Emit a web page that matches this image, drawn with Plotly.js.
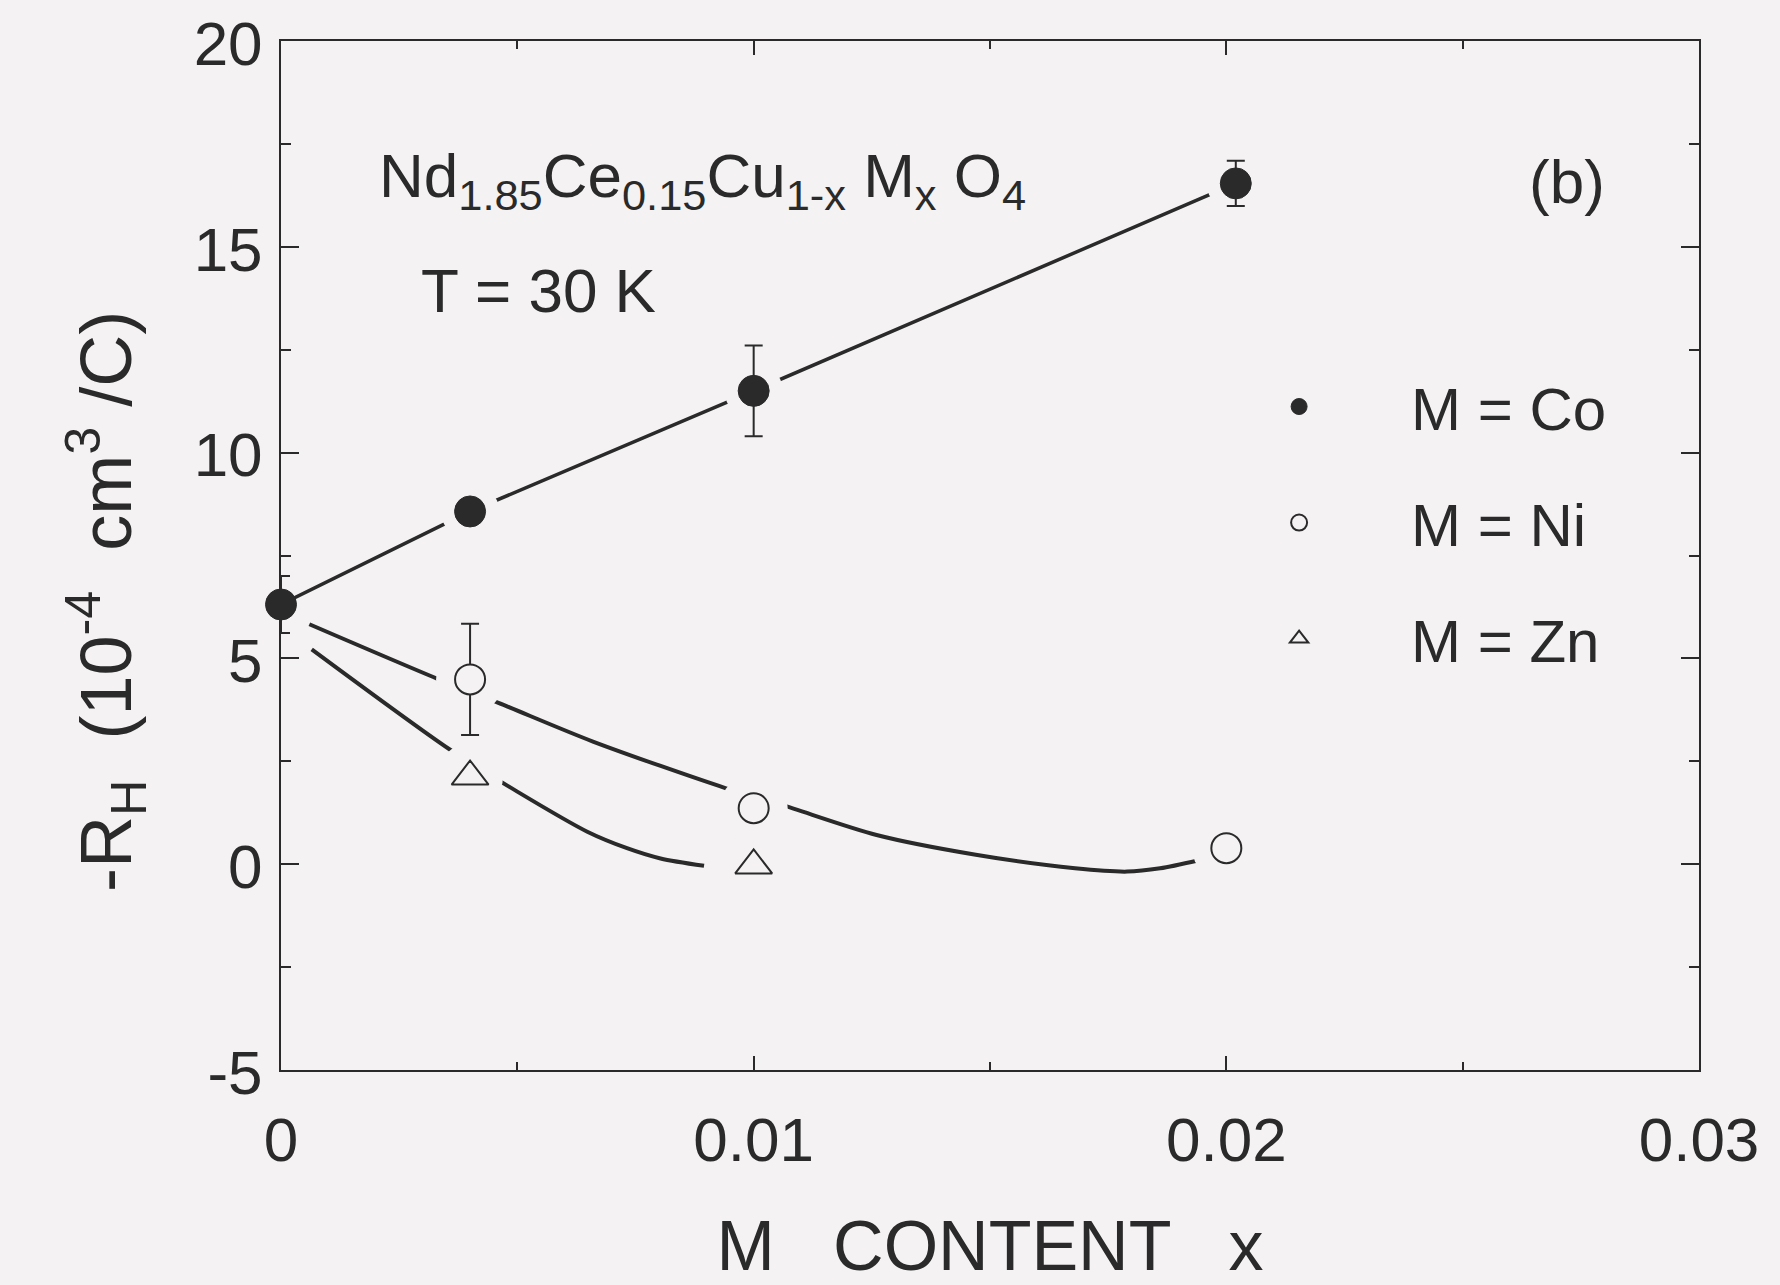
<!DOCTYPE html>
<html>
<head>
<meta charset="utf-8">
<script src="https://cdn.plot.ly/plotly-3.0.1.min.js"></script>
<style>html,body{margin:0;padding:0;background:#f4f2f2;}</style>
</head>
<body>
<div id="chart" style="width:1780px;height:1285px;"></div>
<script>
// ---- data ----
const coX = [0, 0.004, 0.01, 0.0202];
const coY = [6.31, 8.57, 11.5, 16.54];
const coErr = [0.69, 0, 1.1, 0.55];

const niX = [0.004, 0.01, 0.02];
const niY = [4.49, 1.36, 0.39];
const niErr = [1.35, 0, 0];

const znX = [0.004, 0.01];
const znY = [2.13, -0.03];

// guide curves (hand-drawn lines in the figure)
const niFitX = [0.0006, 0.0033, 0.0046, 0.0066, 0.0094, 0.0106, 0.0126, 0.0147, 0.0168, 0.0179, 0.0186, 0.0194];
const niFitY = [5.83, 4.51, 3.92, 2.98, 1.85, 1.44, 0.71, 0.23, -0.10, -0.18, -0.10, 0.09];
const znFitX = [0.00065, 0.00358, 0.00499, 0.00648, 0.00732, 0.00803, 0.00895];
const znFitY = [5.22, 2.78, 1.77, 0.79, 0.39, 0.14, -0.04];

const legendNames = ['M = Co', 'M = Ni', 'M = Zn'];
const xTickVals = [0, 0.01, 0.02, 0.03];
const xTickText = ['0', '0.01', '0.02', '0.03'];
const yTickVals = [-5, 0, 5, 10, 15, 20];
const yTickText = ['-5', '0', '5', '10', '15', '20'];

// ---- styling ----
const BG = '#f4f2f2';
const INK = '#2a2a2a';
const FONT = 'Liberation Sans, Arial, Helvetica, sans-serif';

const traces = [
  {x: coX, y: coY, mode: 'lines', line: {color: INK, width: 3.5}, showlegend: false, hoverinfo: 'skip', cliponaxis: false},
  {x: niFitX, y: niFitY, mode: 'lines', line: {color: INK, width: 4, shape: 'spline', smoothing: 0.8}, showlegend: false, hoverinfo: 'skip'},
  {x: znFitX, y: znFitY, mode: 'lines', line: {color: INK, width: 4, shape: 'spline', smoothing: 0.8}, showlegend: false, hoverinfo: 'skip'},
  // background-coloured discs that open gaps in the lines around the symbols
  {x: coX.slice(1), y: coY.slice(1), mode: 'markers', marker: {color: BG, size: 58, line: {width: 0}}, showlegend: false, hoverinfo: 'skip'},
  {x: niX, y: niY, mode: 'markers', marker: {color: BG, size: 68, line: {width: 0}}, showlegend: false, hoverinfo: 'skip'},
  {x: znX, y: znY, mode: 'markers', marker: {color: BG, size: 66, line: {width: 0}}, showlegend: false, hoverinfo: 'skip'},
  // symbols
  {x: coX, y: coY, name: legendNames[0], legendgroup: 'co', mode: 'markers', cliponaxis: false,
   marker: {symbol: 'circle', color: INK, size: 31, line: {color: INK, width: 1}},
   error_y: {type: 'data', array: coErr, visible: true, color: INK, thickness: 2, width: 9}},
  {x: niX, y: niY, name: legendNames[1], legendgroup: 'ni', mode: 'markers', cliponaxis: false,
   marker: {symbol: 'circle', color: BG, size: 30, line: {color: INK, width: 2}},
   error_y: {type: 'data', array: niErr, visible: true, color: INK, thickness: 2, width: 9}},
  {x: znX, y: znY, name: legendNames[2], legendgroup: 'zn', mode: 'markers', cliponaxis: false,
   marker: {symbol: 'triangle-up', color: BG, size: 32, line: {color: INK, width: 2}}}
];

const layout = {
  width: 1780, height: 1285,
  paper_bgcolor: BG, plot_bgcolor: BG,
  margin: {l: 281, r: 81, t: 41, b: 215},
  font: {family: FONT, color: INK},
  showlegend: true,
  legend: {
    x: 0.639, y: 0.689, xanchor: 'left', yanchor: 'top',
    bgcolor: 'rgba(0,0,0,0)', borderwidth: 0,
    font: {size: 60, family: FONT, color: INK},
    tracegroupgap: 35, itemwidth: 214
  },
  xaxis: {
    range: [0, 0.03], tickvals: xTickVals, ticktext: xTickText,
    ticks: 'inside', ticklen: 14, tickwidth: 2, tickcolor: INK,
    showline: true, linewidth: 2, linecolor: INK, mirror: 'allticks',
    showgrid: false, zeroline: false,
    tickfont: {size: 62, family: FONT, color: INK},
    ticklabelstandoff: 15, ticklabeloverflow: 'allow',
    minor: {dtick: 0.005, tick0: 0, ticks: 'inside', ticklen: 8, tickwidth: 2, tickcolor: INK, showgrid: false},
    title: {text: 'M   CONTENT   x', font: {size: 70, family: FONT, color: INK}, standoff: 52}
  },
  yaxis: {
    range: [-5, 20], tickvals: yTickVals, ticktext: yTickText,
    ticks: 'inside', ticklen: 18, tickwidth: 2, tickcolor: INK,
    showline: true, linewidth: 2, linecolor: INK, mirror: 'allticks',
    showgrid: false, zeroline: false,
    tickfont: {size: 62, family: FONT, color: INK},
    ticklabelstandoff: 4, ticklabelshift: 2, ticklabeloverflow: 'allow',
    minor: {dtick: 2.5, tick0: 0, ticks: 'inside', ticklen: 10, tickwidth: 2, tickcolor: INK, showgrid: false}
  },
  annotations: [
    {xref: 'paper', yref: 'paper', x: -0.124, y: 0.455, xanchor: 'center', yanchor: 'middle', showarrow: false,
     textangle: -90,
     text: '-R<sub>H</sub>  (10<sup>-4</sup>  cm<sup>3</sup> /C)',
     font: {size: 72, family: FONT, color: INK}},
    {xref: 'paper', yref: 'paper', x: 0.068, y: 0.865, xanchor: 'left', yanchor: 'middle', showarrow: false,
     text: 'Nd<sub>1.85</sub>Ce<sub>0.15</sub>Cu<sub>1-x</sub> M<sub>x</sub> O<sub>4</sub>',
     font: {size: 62, family: FONT, color: INK}},
    {xref: 'paper', yref: 'paper', x: 0.097, y: 0.758, xanchor: 'left', yanchor: 'middle', showarrow: false,
     text: 'T = 30 K', font: {size: 62, family: FONT, color: INK}},
    {xref: 'paper', yref: 'paper', x: 0.907, y: 0.863, xanchor: 'center', yanchor: 'middle', showarrow: false,
     text: '(b)', font: {size: 62, family: FONT, color: INK}}
  ]
};

Plotly.newPlot('chart', traces, layout, {staticPlot: true, displayModeBar: false});
</script>
</body>
</html>
